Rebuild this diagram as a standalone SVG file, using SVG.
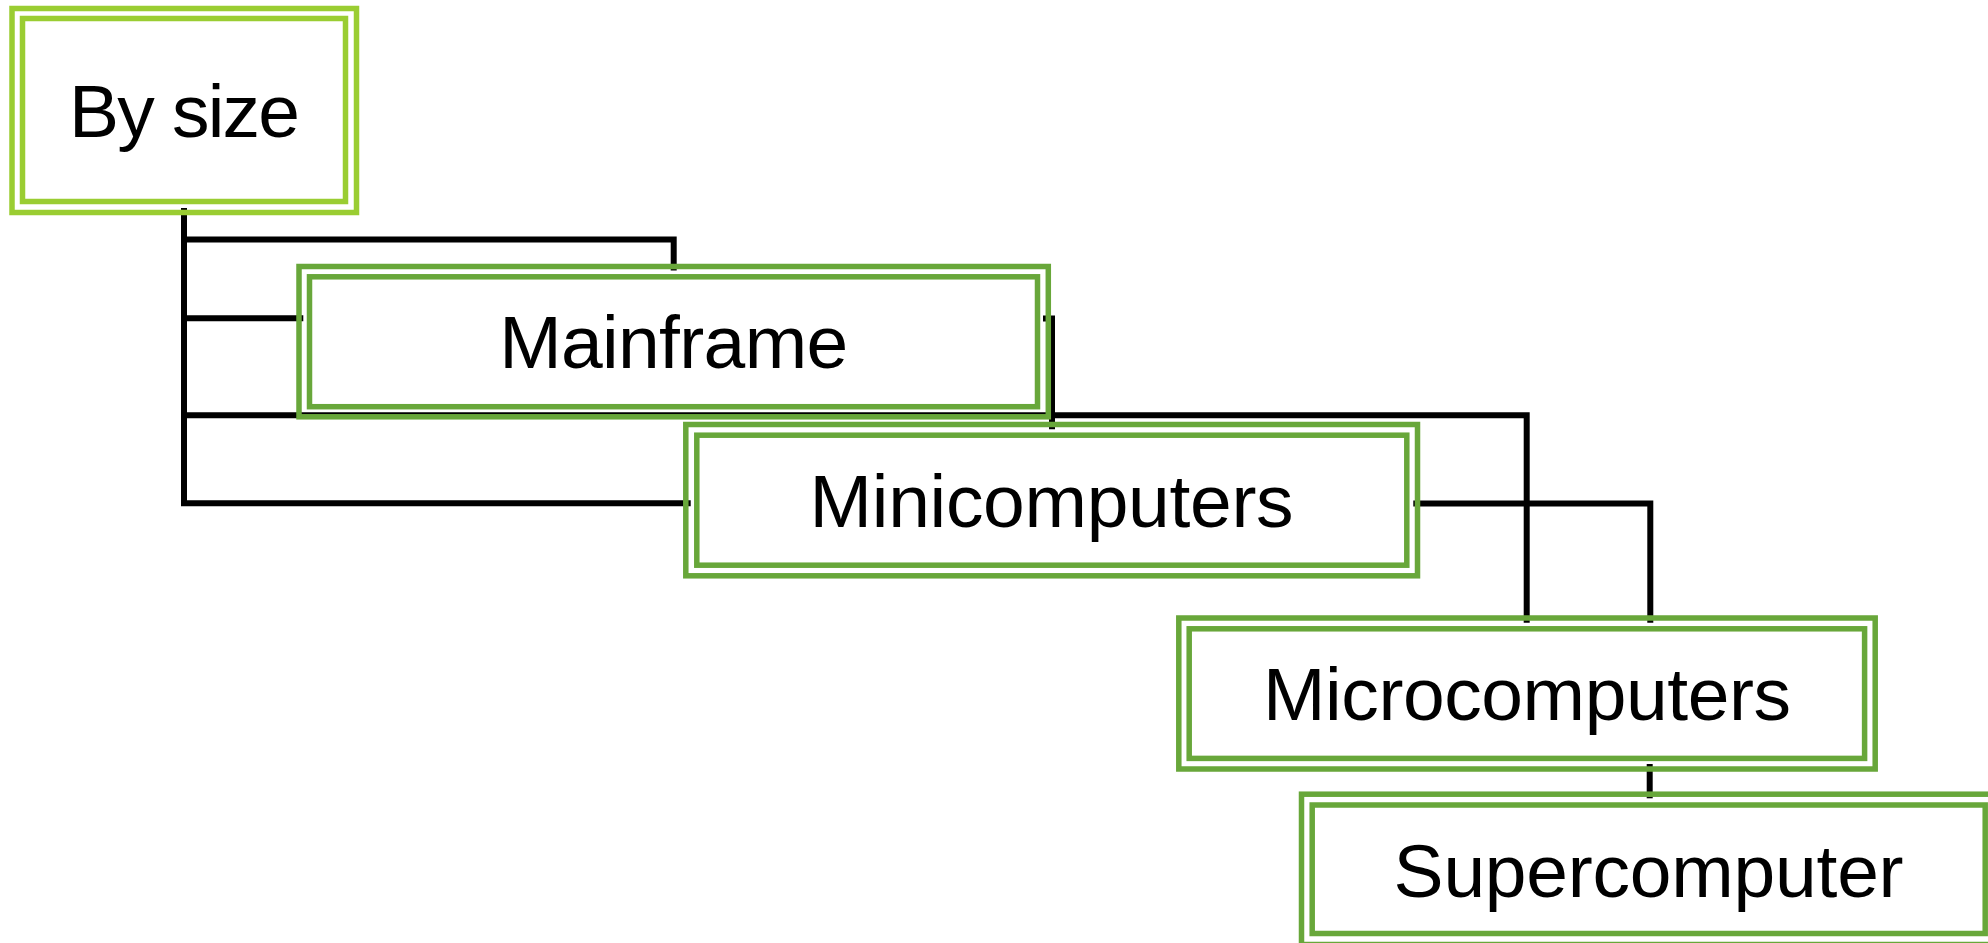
<svg xmlns="http://www.w3.org/2000/svg" width="1988" height="943" viewBox="0 0 1988 943">
  <style>
    .bg { fill: #ffffff; }
    .conn { fill: none; stroke: #000000; stroke-width: 6; stroke-linejoin: miter; stroke-linecap: butt; }
    .frame { fill: none; stroke: #68A73A; stroke-width: 5.5; }
    .root .frame { stroke: #9ACD32; }
    .label { font-family: "Liberation Sans", Arial, sans-serif; font-size: 75px; fill: #000000; text-anchor: middle; }
  </style>
  <rect class="bg" x="0" y="0" width="1988" height="943"/>

  <g id="connectors">
    <path class="conn" d="M184,208 V239.5 H673.7 V270.5"/>
    <path class="conn" d="M184,208 V318.3 H303.3"/>
    <path class="conn" d="M184,208 V415.3 H1526.7 V622.7"/>
    <path class="conn" d="M184,208 V503.3 H690.7"/>
    <path class="conn" d="M1043,318.5 H1052 V429.3"/>
    <path class="conn" d="M1413.3,503.5 H1650.3 V622.7"/>
    <path class="conn" d="M1649.7,764 V798.3"/>
  </g>

  <g id="node-by-size" class="root">
    <rect class="frame" x="12" y="8.5" width="344.5" height="204"/>
    <rect class="frame" x="22.5" y="18.5" width="323" height="183"/>
    <text class="label" x="184.5" y="137" textLength="231" lengthAdjust="spacing">By size</text>
  </g>

  <g id="node-mainframe">
    <rect class="frame" x="299" y="266.5" width="749.3" height="150.3"/>
    <rect class="frame" x="309.5" y="276.8" width="728" height="129.9"/>
    <text class="label" x="673.7" y="368.3" textLength="349" lengthAdjust="spacing">Mainframe</text>
  </g>

  <g id="node-minicomputers">
    <rect class="frame" x="685.8" y="424.5" width="731.7" height="151.3"/>
    <rect class="frame" x="696.8" y="435.2" width="710" height="130"/>
    <text class="label" x="1051.6" y="527" textLength="484" lengthAdjust="spacing">Minicomputers</text>
  </g>

  <g id="node-microcomputers">
    <rect class="frame" x="1178.8" y="618" width="696.4" height="151"/>
    <rect class="frame" x="1189.2" y="628.8" width="675.4" height="129.6"/>
    <text class="label" x="1527" y="720.3" textLength="528" lengthAdjust="spacing">Microcomputers</text>
  </g>

  <g id="node-supercomputer">
    <rect class="frame" x="1301.5" y="794.2" width="694.2" height="150.3"/>
    <rect class="frame" x="1312.2" y="805" width="673" height="128.5"/>
    <text class="label" x="1648.6" y="896.5" textLength="510" lengthAdjust="spacing">Supercomputer</text>
  </g>
</svg>
